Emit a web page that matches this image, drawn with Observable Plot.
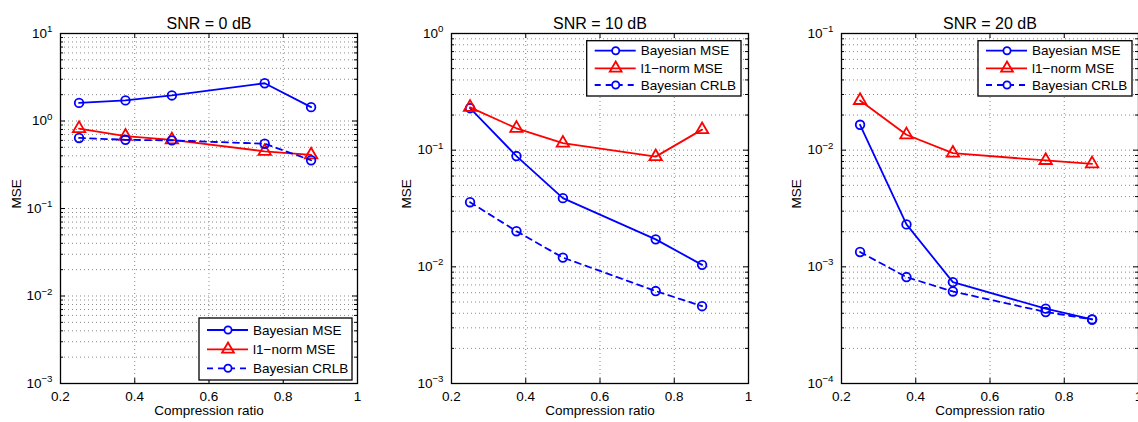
<!DOCTYPE html>
<html>
<head>
<meta charset="utf-8">
<script src="https://cdn.jsdelivr.net/npm/d3@7"></script>
<script src="https://cdn.jsdelivr.net/npm/@observablehq/plot@0.6"></script>
<style>
  html, body { margin: 0; padding: 0; background: white; }
  #wrap { position: relative; width: 1138px; height: 422px; overflow: hidden; background: white; }
  #wrap > div { position: absolute; top: 0; width: 380px; height: 422px; }
  #wrap svg { display: block; max-width: none !important; width: 380px; height: 422px;
    font-family: 'Liberation Sans', Arial, Helvetica, sans-serif !important; font-size: 13.5px !important; }
</style>
</head>
<body>
<div id="wrap"></div>
<script>
// ---- data ----
const ratio = [0.25, 0.375, 0.5, 0.75, 0.875];

const snr0Bayes = [1.61, 1.72, 1.96, 2.70, 1.44];
const snr0L1    = [0.82, 0.67, 0.61, 0.45, 0.41];
const snr0Crlb  = [0.64, 0.61, 0.60, 0.55, 0.356];

const snr10Bayes = [0.229, 0.089, 0.0388, 0.0172, 0.0104];
const snr10L1    = [0.233, 0.154, 0.115, 0.088, 0.150];
const snr10Crlb  = [0.0358, 0.0202, 0.0120, 0.0062, 0.0046];

const snr20Bayes = [0.0165, 0.00231, 0.00074, 0.000438, 0.000354];
const snr20L1    = [0.0267, 0.01355, 0.00944, 0.00817, 0.00764];
const snr20Crlb  = [0.00134, 0.000817, 0.000615, 0.00041, 0.000354];

const titles = ["SNR = 0 dB", "SNR = 10 dB", "SNR = 20 dB"];
const seriesNames = ["Bayesian MSE", "l1\u2212norm MSE", "Bayesian CRLB"];
const xTicks = [0.2, 0.4, 0.6, 0.8, 1];
const xLabel = "Compression ratio";
const yLabel = "MSE";
const yDecades = [[-3, 1], [-3, 0], [-4, -1]];

// ---- layout ----
const panels = [
  {left: 0,   ml: 60, mr: 23, data: [snr0Bayes, snr0L1, snr0Crlb],
   legend: {x: 199, y: 318, w: 153, h: 62, rows: [12, 31.3, 50.3]}},
  {left: 390, ml: 61, mr: 22, data: [snr10Bayes, snr10L1, snr10Crlb],
   legend: {x: 196.7, y: 40.7, w: 154.3, h: 55.3, rows: [10, 27.6, 44.3]}},
  {left: 780, ml: 61, mr: 22, data: [snr20Bayes, snr20L1, snr20Crlb],
   legend: {x: 198, y: 40.7, w: 154, h: 55.3, rows: [10, 27.6, 44.3]}}
];
const W = 380, H = 422, MT = 33, MB = 39;
const LW = 1.8;
const styles = [
  {stroke: "#0000ff", symbol: "circle", dash: null},
  {stroke: "#ff0000", symbol: "triangle", dash: null},
  {stroke: "#0000ff", symbol: "circle", dash: "6,5"}
];

const wrap = document.getElementById("wrap");

panels.forEach((p, pi) => {
  const [lo, hi] = yDecades[pi];
  const decadeVals = d3.range(lo, hi + 1).map(k => Math.pow(10, k));
  const minorVals = [];
  for (let k = lo; k < hi; k++) for (let m = 2; m <= 9; m++) minorVals.push(m * Math.pow(10, k));
  const gridY = decadeVals.slice(1, -1).concat(minorVals);
  const pw = W - p.ml - p.mr, ph = H - MT - MB;

  const rows = [];
  p.data.forEach((vals, si) => vals.forEach((v, i) => rows.push({x: ratio[i], y: v, s: si})));

  const gridStyle = {stroke: "#8a8a8a", strokeOpacity: 1, strokeWidth: 1, strokeDasharray: "1,3"};
  const marks = [
    Plot.ruleX(xTicks.slice(1, -1), {x: d => d, ...gridStyle}),
    Plot.ruleY(gridY, {y: d => d, ...gridStyle}),
    // inward ticks
    Plot.tickX(xTicks, {x: d => d, insetTop: ph - 5, stroke: "black"}),
    Plot.tickX(xTicks, {x: d => d, insetBottom: ph - 5, stroke: "black"}),
    Plot.tickY(decadeVals, {y: d => d, insetRight: pw - 5, stroke: "black"}),
    Plot.tickY(decadeVals, {y: d => d, insetLeft: pw - 5, stroke: "black"}),
    Plot.tickY(minorVals, {y: d => d, insetRight: pw - 3, stroke: "black"}),
    Plot.tickY(minorVals, {y: d => d, insetLeft: pw - 3, stroke: "black"}),
  ];
  styles.forEach((st, si) => {
    const d = rows.filter(r => r.s === si);
    marks.push(Plot.line(d, {x: "x", y: "y", stroke: st.stroke, strokeWidth: LW, strokeDasharray: st.dash}));
    marks.push(Plot.dot(d, {x: "x", y: "y", stroke: st.stroke, fill: "none", strokeWidth: LW,
      symbol: st.symbol, r: st.symbol === "triangle" ? 4.6 : 4.3}));
  });
  marks.push(Plot.frame({stroke: "black", strokeWidth: 1.3}));
  marks.push(Plot.text([titles[pi]], {frameAnchor: "top", dy: -16, fontSize: 16, fill: "black"}));
  marks.push(Plot.text([xLabel], {frameAnchor: "bottom", dy: 31, fontSize: 13.5, fill: "black"}));
  marks.push(Plot.text([yLabel], {frameAnchor: "left", dx: -p.ml + 16, rotate: -90, fontSize: 13.5, fill: "black"}));

  const svg = Plot.plot({
    width: W, height: H,
    marginLeft: p.ml, marginRight: p.mr, marginTop: MT, marginBottom: MB,
    style: {background: "white", color: "black", overflow: "visible"},
    x: {domain: [0.2, 1], ticks: xTicks, tickFormat: d => String(d), tickSize: 0, tickPadding: 8, label: null},
    y: {type: "log", domain: [decadeVals[0], decadeVals[decadeVals.length - 1]], ticks: decadeVals,
        tickFormat: d => "10|" + Math.round(Math.log10(d)), tickSize: 0, tickPadding: 8, label: null},
    marks
  });

  // superscript exponents on log tick labels
  d3.select(svg).selectAll("text").filter(function () { return this.textContent.includes("|"); })
    .each(function () {
      const [base, exp] = this.textContent.split("|");
      const t = d3.select(this);
      t.text(base);
      t.append("tspan").attr("dy", "-0.6em").attr("font-size", "0.72em").text(exp.replace("-", "\u2212"));
    });

  // legend
  const L = p.legend;
  const g = d3.select(svg).append("g").attr("text-anchor", "start");
  g.append("rect").attr("x", L.x).attr("y", L.y).attr("width", L.w).attr("height", L.h)
    .attr("fill", "white").attr("stroke", "black").attr("stroke-width", 1.3);
  styles.forEach((st, si) => {
    const y = L.y + L.rows[si];
    g.append("line").attr("x1", L.x + 8).attr("x2", L.x + 49).attr("y1", y).attr("y2", y)
      .attr("stroke", st.stroke).attr("stroke-width", LW).attr("stroke-dasharray", st.dash);
    const sym = st.symbol === "triangle" ? d3.symbolTriangle : d3.symbolCircle;
    const r = st.symbol === "triangle" ? 4.4 : 3.6;
    g.append("path").attr("d", d3.symbol(sym, r * r * Math.PI)())
      .attr("transform", `translate(${L.x + 29},${y})`)
      .attr("fill", st.symbol === "triangle" ? "none" : "white").attr("stroke", st.stroke).attr("stroke-width", LW);
    g.append("text").attr("x", L.x + 54).attr("y", y).attr("dy", "0.35em")
      .attr("text-anchor", "start").attr("fill", "black").text(seriesNames[si]);
  });

  const holder = document.createElement("div");
  holder.style.left = p.left + "px";
  holder.appendChild(svg);
  wrap.appendChild(holder);
});
</script>
</body>
</html>
